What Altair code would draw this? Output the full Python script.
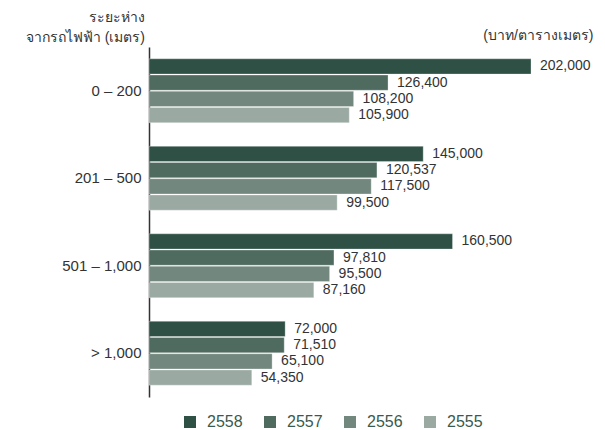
import altair as alt
import pandas as pd

categories = ["0 – 200", "201 – 500", "501 – 1,000", "> 1,000"]
years = ["2558", "2557", "2556", "2555"]
values = {
    "2558": [202000, 145000, 160500, 72000],
    "2557": [126400, 120537, 97810, 71510],
    "2556": [108200, 117500, 95500, 65100],
    "2555": [105900, 99500, 87160, 54350],
}
colors = ["#2f5145", "#4f6b5f", "#72877d", "#9aaaa2"]
y_title_lines = ["ระยะห่าง", "จากรถไฟฟ้า (เมตร)"]
x_title = "(บาท/ตารางเมตร)"

rows = []
for y in years:
    for c, v in zip(categories, values[y]):
        rows.append({"cat": c, "year": y, "value": v})
df = pd.DataFrame(rows)

FONT = "Liberation Sans, Arial, Noto Sans, DejaVu Sans, sans-serif"

y_enc = alt.Y(
    "cat:N",
    sort=categories,
    scale=alt.Scale(paddingInner=0.27, paddingOuter=0.135),
    axis=alt.Axis(
        title=None,
        labelFontSize=15,
        labelColor="#333333",
        labelFont=FONT,
        labelPadding=8,
        ticks=False,
        domainColor="#333333",
        domainWidth=1.5,
        grid=False,
    ),
)
yoff = alt.YOffset("year:N", sort=years, scale=alt.Scale(paddingInner=0.06))
x_enc = alt.X(
    "value:Q",
    scale=alt.Scale(domain=[0, 202000], nice=False),
    axis=alt.Axis(
        orient="top",
        title=x_title,
        titleAnchor="end",
        titleAlign="right",
        titleBaseline="middle",
        titleX=444,
        titleY=-12,
        titleFontSize=14,
        titleFontWeight="normal",
        titleColor="#333333",
        titleFont=FONT,
        labels=False,
        ticks=False,
        domain=False,
        grid=False,
    ),
)

bars = alt.Chart(df).mark_bar(stroke="#ffffff", strokeWidth=0.3).encode(
    x=x_enc,
    y=y_enc,
    yOffset=yoff,
    color=alt.Color(
        "year:N",
        sort=years,
        scale=alt.Scale(domain=years, range=colors),
        legend=alt.Legend(
            title=None,
            orient="none",
            direction="horizontal",
            legendX=33,
            legendY=367,
            symbolType="square",
            symbolSize=144,
            symbolStrokeWidth=0,
            symbolOpacity=1,
            labelFontSize=16,
            labelFont=FONT,
            labelColor="#3a5a4d",
            labelOffset=9,
            columnPadding=19,
        ),
    ),
)

labels = alt.Chart(df).mark_text(
    align="left", baseline="middle", dx=9, fontSize=14, font=FONT, color="#333333"
).encode(
    x=alt.X("value:Q"),
    y=alt.Y("cat:N", sort=categories),
    yOffset=alt.YOffset("year:N", sort=years),
    text=alt.Text("value:Q", format=","),
)

title_df = pd.DataFrame({"t": y_title_lines, "line": [0, 1]})
title1 = alt.Chart(title_df.iloc[[0]]).mark_text(
    align="right", baseline="middle", fontSize=14, font=FONT, color="#333333"
).encode(x=alt.value(-4), y=alt.value(-29), text="t:N")
title2 = alt.Chart(title_df.iloc[[1]]).mark_text(
    align="right", baseline="middle", fontSize=14, font=FONT, color="#333333"
).encode(x=alt.value(-4), y=alt.value(-9), text="t:N")

chart = (
    alt.layer(bars, labels, title1, title2)
    .properties(
        width=382,
        height=350,
        padding={"left": 141, "top": 39, "right": 66, "bottom": 40},
        autosize=alt.AutoSizeParams(type="none"),
    )
    .configure_view(stroke=None)
)

chart.save("out.html", embed_options={"renderer": "svg", "actions": False})
